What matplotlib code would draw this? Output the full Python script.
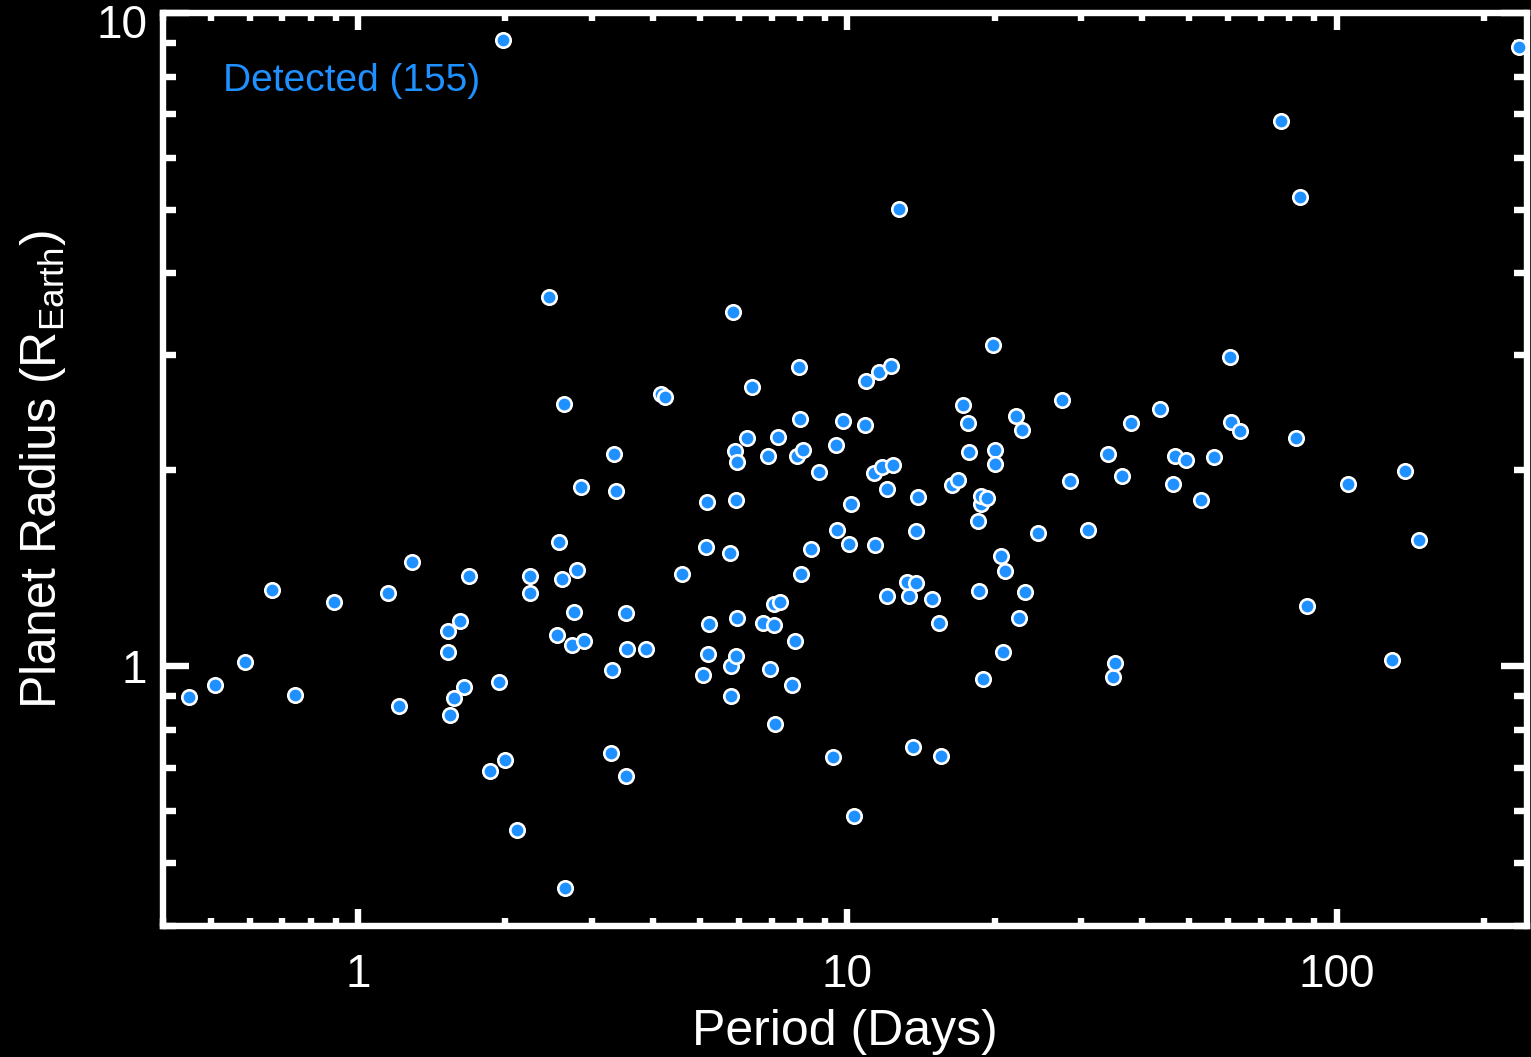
import matplotlib
matplotlib.use('Agg')
import matplotlib.pyplot as plt
from matplotlib.ticker import LogLocator, NullFormatter, FixedLocator

plt.rcParams['font.family'] = ['Liberation Sans', 'DejaVu Sans']
plt.rcParams['mathtext.fontset'] = 'custom'
plt.rcParams['mathtext.rm'] = 'Liberation Sans'
plt.rcParams['mathtext.it'] = 'Liberation Sans:italic'

# detected planets: orbital period (days) and radius (Earth radii)
period = [0.452, 0.511, 0.588, 0.668, 0.743, 0.893, 1.152, 1.215, 1.287, 1.530,
          1.525, 1.539, 1.574, 1.617, 1.650, 1.684, 1.865, 1.939, 1.975, 1.994,
          2.108, 2.244, 2.251, 2.454, 2.548, 2.580, 2.614, 2.630, 2.646, 2.731,
          2.760, 2.804, 2.858, 2.899, 3.281, 3.307, 3.338, 3.359, 3.521, 3.533,
          3.549, 3.886, 4.165, 4.231, 4.583, 5.067, 5.132, 5.173, 5.187, 5.212,
          5.754, 5.772, 5.791, 5.846, 5.881, 5.957, 5.929, 5.929, 5.937, 6.244,
          6.393, 6.720, 6.880, 6.945, 7.077, 7.077, 7.100, 7.202, 7.280, 7.717,
          7.828, 7.875, 7.976, 8.000, 8.026, 8.113, 8.413, 8.736, 9.346, 9.478,
          9.541, 9.781, 10.08, 10.16, 10.31, 10.87, 10.90, 11.34, 11.41, 11.60,
          11.75, 12.07, 12.03, 12.30, 12.42, 12.75, 13.35, 13.27, 13.60, 13.80,
          13.81, 13.97, 14.87, 15.37, 15.57, 16.35, 16.87, 17.27, 17.62, 17.73,
          18.47, 18.73, 18.58, 18.91, 18.73, 19.33, 19.85, 20.08, 20.08, 20.65,
          20.84, 21.00, 22.09, 22.40, 22.80, 23.08, 24.58, 27.44, 28.58, 31.05,
          34.18, 34.99, 35.20, 36.50, 38.08, 43.59, 46.20, 46.77, 49.25, 52.72,
          56.04, 60.41, 60.78, 63.41, 76.91, 82.68, 84.01, 86.84, 105.3, 129.9,
          138.0, 147.5, 235.6]
radius = [0.899, 0.935, 1.017, 1.309, 0.905, 1.256, 1.297, 0.871, 1.447, 1.131,
          1.051, 0.843, 0.895, 1.172, 0.929, 1.375, 0.691, 0.948, 9.115, 0.720,
          0.562, 1.375, 1.296, 3.674, 1.117, 1.551, 1.362, 2.519, 0.458, 1.077,
          1.213, 1.403, 1.883, 1.095, 0.737, 0.988, 2.115, 1.854, 1.207, 0.680,
          1.063, 1.062, 2.613, 2.582, 1.387, 0.970, 1.524, 1.783, 1.043, 1.161,
          1.492, 0.900, 1.001, 3.493, 2.134, 2.056, 1.800, 1.038, 1.184, 2.235,
          2.681, 1.165, 2.102, 0.991, 1.158, 1.247, 0.816, 2.248, 1.257, 0.938,
          1.092, 2.097, 2.877, 2.392, 1.385, 2.142, 1.513, 1.987, 0.727, 2.183,
          1.618, 2.378, 1.540, 1.773, 0.591, 2.345, 2.739, 1.978, 1.536, 2.824,
          2.017, 1.283, 1.872, 2.887, 2.036, 5.022, 1.283, 1.347, 0.753, 1.342,
          1.609, 1.815, 1.268, 1.167, 0.728, 1.897, 1.931, 2.510, 2.359, 2.127,
          1.668, 1.775, 1.306, 0.957, 1.821, 1.811, 3.106, 2.147, 2.044, 1.476,
          1.052, 1.398, 2.420, 1.184, 2.304, 1.300, 1.598, 2.561, 1.924, 1.618,
          2.115, 0.963, 1.011, 1.957, 2.356, 2.481, 1.899, 2.097, 2.071, 1.798,
          2.095, 2.978, 2.370, 2.296, 6.842, 2.235, 5.226, 1.236, 1.899, 1.024,
          1.994, 1.560, 8.884]

n_detected = 155
blue = '#1E90FF'

fig = plt.figure(figsize=(15.31, 10.57), dpi=100, facecolor='black')
ax = fig.add_axes([0.1067, 0.1237, 0.8907, 0.8637], facecolor='black')

ax.scatter(period, radius, s=108, color=blue, edgecolors='white', linewidths=1.9,
           zorder=3, clip_on=False)

ax.set_xscale('log')
ax.set_yscale('log')
ax.set_xlim(0.4, 245)
ax.set_ylim(0.4, 10)

for sp in ax.spines.values():
    sp.set_color('white')
    sp.set_linewidth(4.6)

ax.xaxis.set_major_locator(FixedLocator([1, 10, 100]))
ax.set_xticklabels(['1', '10', '100'])
ax.xaxis.set_minor_locator(LogLocator(base=10, subs=range(2, 10)))
ax.xaxis.set_minor_formatter(NullFormatter())
ax.yaxis.set_major_locator(FixedLocator([1, 10]))
ax.set_yticklabels(['1', ''])
ax.yaxis.set_minor_locator(LogLocator(base=10, subs=range(2, 10)))
ax.yaxis.set_minor_formatter(NullFormatter())

ax.tick_params(axis='both', which='both', direction='in', colors='white',
               width=4.6, top=True, right=True, labelsize=33)
ax.tick_params(axis='x', which='major', length=12.2, pad=19)
ax.tick_params(axis='x', which='minor', length=5.8)
ax.tick_params(axis='y', which='major', length=19, pad=12)
ax.tick_params(axis='y', which='minor', length=9.6)

# the top "10" label sits a little below its tick, as in the original
ax.annotate('10', xy=(0, 10), xycoords=('axes fraction', 'data'),
            xytext=(-16, -13), textcoords='offset pixels',
            ha='right', va='center', color='white', fontsize=33)

ax.set_xlabel('Period (Days)', color='white', fontsize=36, labelpad=9)
ax.set_ylabel(r'Planet Radius (R$_{\mathrm{Earth}}$)', color='white',
              fontsize=36, labelpad=38)

ax.text(0.044, 0.915, f'Detected ({n_detected})', transform=ax.transAxes,
        color=blue, fontsize=28, ha='left', va='baseline')

fig.savefig('out.png', dpi=100, facecolor='black')
